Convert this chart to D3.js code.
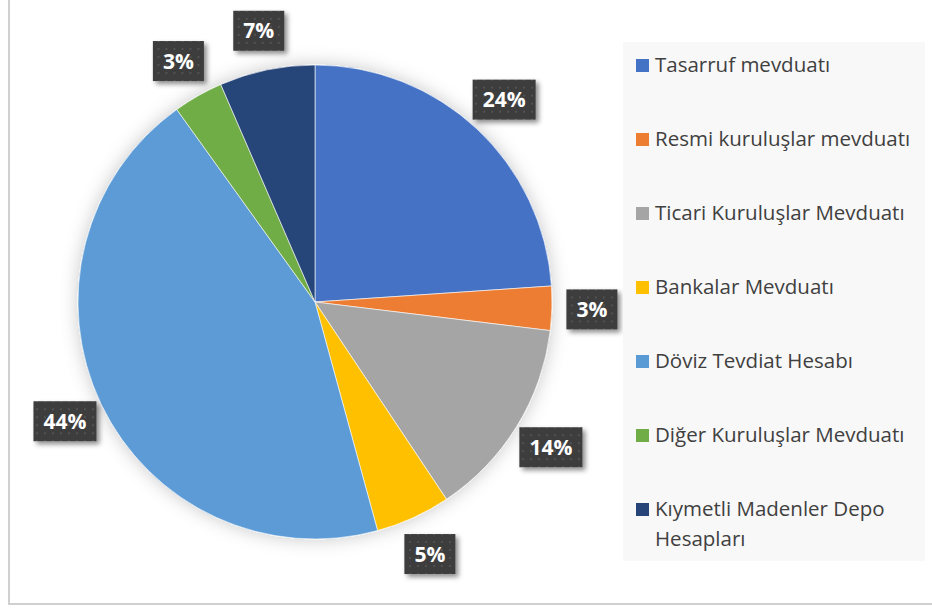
<!DOCTYPE html>
<html>
<head>
<meta charset="utf-8">
<script src="https://cdn.jsdelivr.net/npm/d3@7"></script>
<style>
  body { margin: 0; background: #fff; }
  svg { display: block; }
</style>
</head>
<body>
<script>
const width = 932, height = 608;

const categories = ["Tasarruf mevduatı", "Resmi kuruluşlar mevduatı", "Ticari Kuruluşlar Mevduatı",
  "Bankalar Mevduatı", "Döviz Tevdiat Hesabı", "Diğer Kuruluşlar Mevduatı", "Kıymetli Madenler Depo Hesapları"];
const values = [23.9, 3.0, 13.7, 5.1, 44.3, 3.4, 6.5];
const colors = ["#4472C4", "#ED7D31", "#A5A5A5", "#FFC000", "#5B9BD5", "#70AD47", "#264478"];
const legendLines = [["Tasarruf mevduatı"], ["Resmi kuruluşlar mevduatı"], ["Ticari Kuruluşlar Mevduatı"],
  ["Bankalar Mevduatı"], ["Döviz Tevdiat Hesabı"], ["Diğer Kuruluşlar Mevduatı"], ["Kıymetli Madenler Depo", "Hesapları"]];

const svg = d3.select("body").append("svg").attr("width", width).attr("height", height);
const defs = svg.append("defs");

// dotted dark texture for data labels
const pat = defs.append("pattern").attr("id", "dots")
  .attr("width", 8).attr("height", 8).attr("patternUnits", "userSpaceOnUse");
pat.append("rect").attr("width", 8).attr("height", 8).attr("fill", "#3c3c3c");
pat.append("rect").attr("x", 3).attr("y", 3).attr("width", 2).attr("height", 2).attr("fill", "#525252");

defs.append("filter").attr("id", "lblShadow").attr("x", "-30%").attr("y", "-30%").attr("width", "160%").attr("height", "160%")
  .append("feDropShadow").attr("dx", 3).attr("dy", 3).attr("stdDeviation", 2.5)
  .attr("flood-color", "#000").attr("flood-opacity", 0.45);

defs.append("filter").attr("id", "pieShadow").attr("x", "-20%").attr("y", "-20%").attr("width", "140%").attr("height", "140%")
  .append("feDropShadow").attr("dx", 0).attr("dy", 0).attr("stdDeviation", 9)
  .attr("flood-color", "#000").attr("flood-opacity", 0.22);

// chart frame (left and bottom edges visible)
svg.append("line").attr("x1", 9).attr("x2", 9).attr("y1", 0).attr("y2", 604)
  .attr("stroke", "#d0d0d0").attr("stroke-width", 2);
svg.append("line").attr("x1", 8).attr("x2", width).attr("y1", 604).attr("y2", 604)
  .attr("stroke", "#d0d0d0").attr("stroke-width", 2);

const cx = 315, cy = 302, radius = 237;
const pie = d3.pie().sort(null).value(d => d)(values);
const arc = d3.arc().innerRadius(0).outerRadius(radius);
const labelArc = d3.arc().innerRadius(radius + 40).outerRadius(radius + 40);

const g = svg.append("g").attr("transform", `translate(${cx},${cy})`);

g.append("g").attr("filter", "url(#pieShadow)")
  .selectAll("path").data(pie).enter().append("path")
  .attr("d", arc)
  .attr("fill", (d, i) => colors[i])
  .attr("stroke", "#fff").attr("stroke-width", 0.6);

// data labels
const lbl = g.selectAll(".lbl").data(pie).enter().append("g")
  .attr("class", "lbl")
  .attr("transform", d => `translate(${labelArc.centroid(d)})`);

lbl.append("text")
  .attr("text-anchor", "middle").attr("dy", "0.36em")
  .style("font-family", "'Open Sans', 'DejaVu Sans', sans-serif")
  .style("font-weight", "bold").style("font-size", "21px")
  .attr("fill", "#fff")
  .text(d => Math.round(d.value) + "%")
  .each(function() {
    const b = this.getBBox();
    const w = b.width + 20, h = 40;
    d3.select(this.parentNode).insert("rect", "text")
      .attr("x", -w / 2).attr("y", -h / 2).attr("width", w).attr("height", h)
      .attr("fill", "url(#dots)").attr("filter", "url(#lblShadow)");
  });

// legend
const legend = svg.append("g");
legend.append("rect").attr("x", 623).attr("y", 42).attr("width", 302).attr("height", 519)
  .attr("fill", "#f8f8f8");

const item = legend.selectAll(".item").data(categories).enter().append("g")
  .attr("class", "item")
  .attr("transform", (d, i) => `translate(636, ${72 + i * 74})`);

item.append("rect").attr("x", 0).attr("y", -13).attr("width", 13).attr("height", 13)
  .attr("fill", (d, i) => colors[i]);

item.append("text")
  .attr("x", 19).attr("y", 0)
  .style("font-family", "'Open Sans', sans-serif").style("font-size", "20.5px")
  .attr("fill", "#404040")
  .selectAll("tspan").data((d, i) => legendLines[i]).enter().append("tspan")
  .attr("x", 19).attr("dy", (d, j) => j === 0 ? 0 : 30)
  .text(d => d);
</script>
</body>
</html>
